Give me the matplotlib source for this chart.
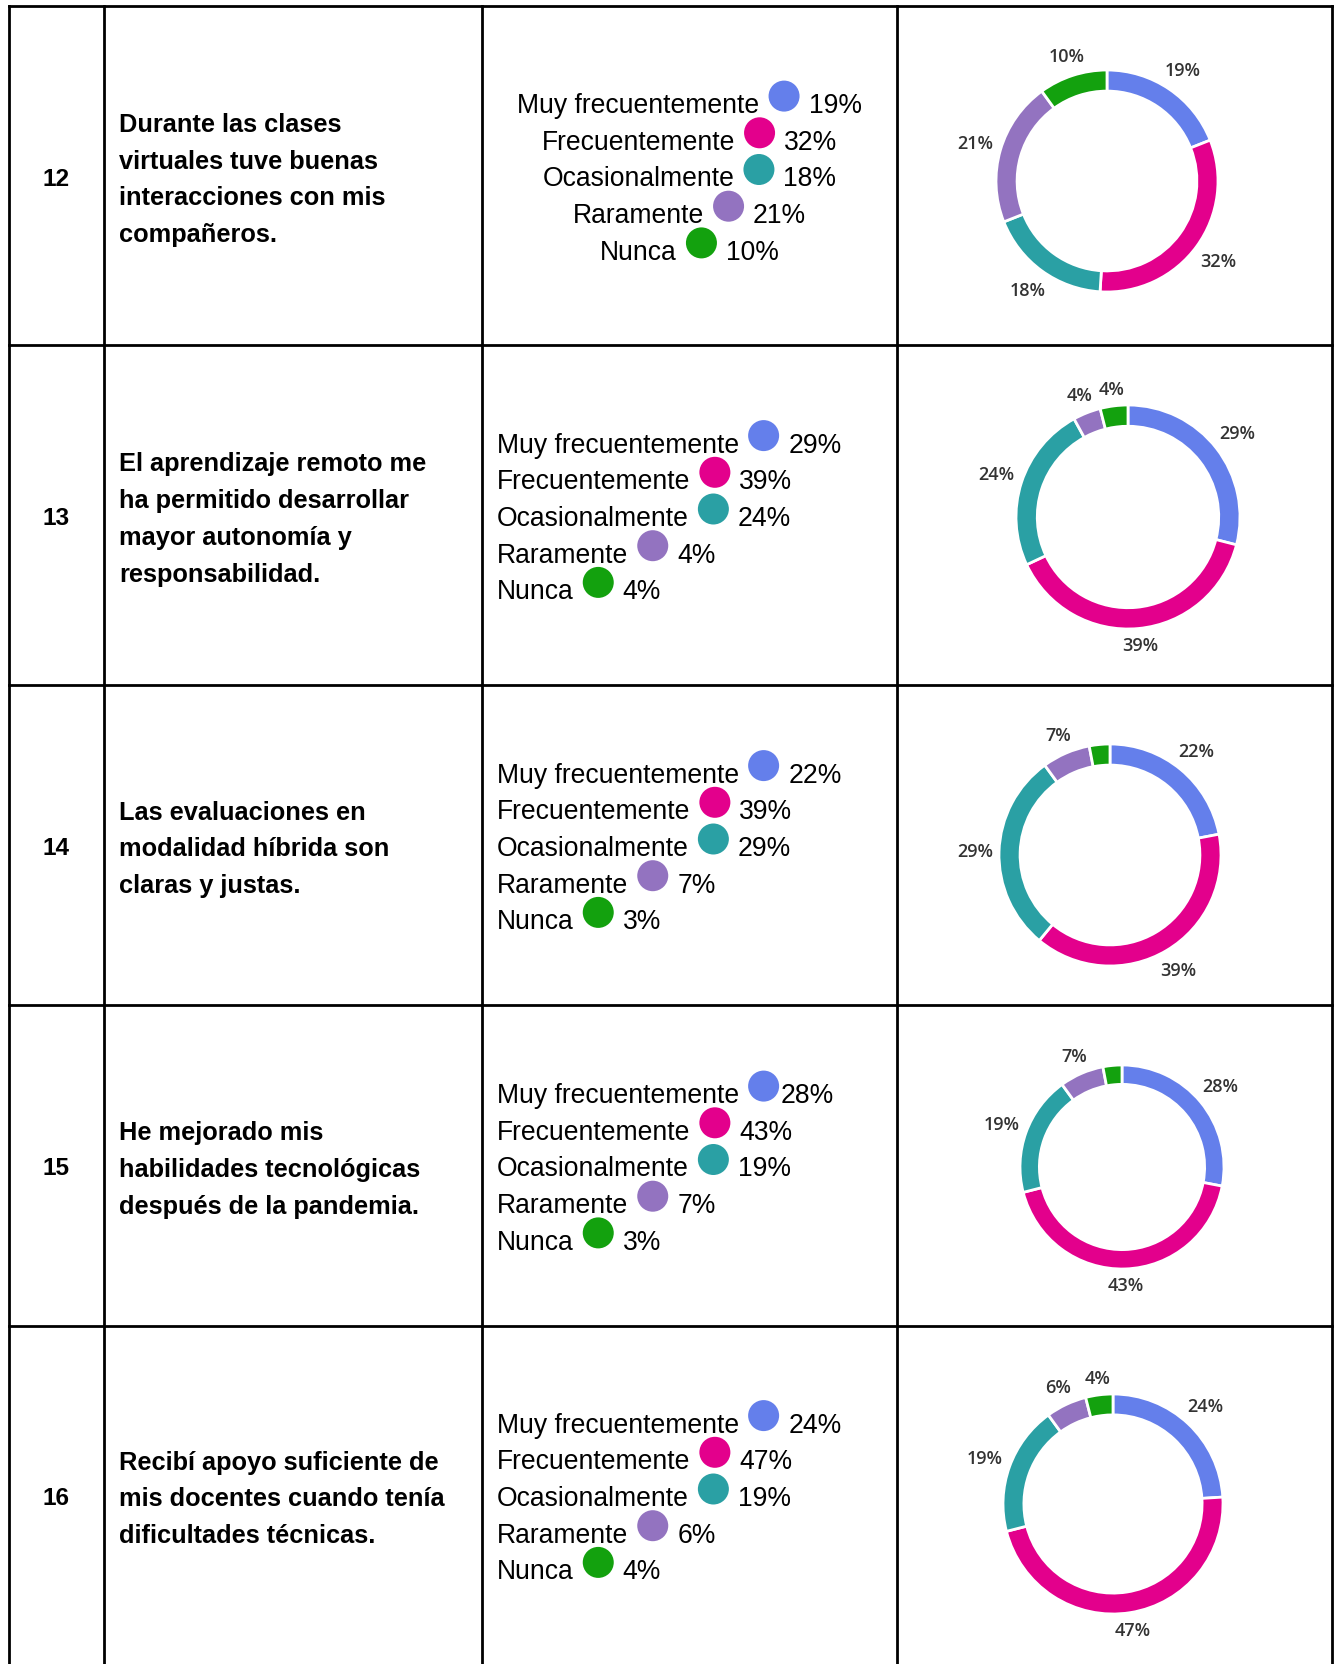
import matplotlib
matplotlib.use("Agg")
import matplotlib.pyplot as plt
from matplotlib.patches import Circle
from matplotlib import font_manager
import numpy as np

W, H = 1335, 1665

# datos de la tabla
numeros = ["12", "13", "14", "15", "16"]
preguntas = [
    ["Durante las clases", "virtuales tuve buenas", "interacciones con mis", "compañeros."],
    ["El aprendizaje remoto me", "ha permitido desarrollar", "mayor autonomía y", "responsabilidad."],
    ["Las evaluaciones en", "modalidad híbrida son", "claras y justas."],
    ["He mejorado mis", "habilidades tecnológicas", "después de la pandemia."],
    ["Recibí apoyo suficiente de", "mis docentes cuando tenía", "dificultades técnicas."],
]
opciones = ["Muy frecuentemente", "Frecuentemente", "Ocasionalmente", "Raramente", "Nunca"]
colores = ["#647FEB", "#E3008C", "#2AA0A4", "#9373C0", "#13A10E"]

p12 = [19, 32, 18, 21, 10]
p13 = [29, 39, 24, 4, 4]
p14 = [22, 39, 29, 7, 3]
p15 = [28, 43, 19, 7, 3]
p16 = [24, 47, 19, 6, 4]
porcentajes = [p12, p13, p14, p15, p16]

# layout (pixeles)
col_x = [9, 104, 482, 897, 1332]
row_y = [7, 346, 686, 1006, 1327, 1665]
donut_c = [(1107, 182), (1128, 518), (1110, 856), (1122, 1168), (1113, 1505)]
donut_r = [111, 112, 111, 102, 110]


def buscar_fuente(nombre, peso):
    # evita que salga la variante Narrow
    for f in font_manager.fontManager.ttflist:
        if f.name == nombre and f.weight == peso and f.style == "normal" \
                and "Narrow" not in f.fname:
            return f.fname
    return None


f_reg = buscar_fuente("Liberation Sans", 400)
f_bold = buscar_fuente("Liberation Sans", 700)


def fp(path, size, weight="normal"):
    if path:
        return font_manager.FontProperties(fname=path, size=size)
    return font_manager.FontProperties(family="Liberation Sans", weight=weight, size=size)


fig = plt.figure(figsize=(W / 100, H / 100), dpi=100)
ax = fig.add_axes([0, 0, 1, 1])
ax.set_xlim(0, W)
ax.set_ylim(H, 0)
ax.axis("off")

# bordes de la tabla
for x in col_x:
    ax.plot([x, x], [row_y[0], H], color="black", lw=2, solid_capstyle="projecting")
for y in row_y[:-1]:
    ax.plot([col_x[0], col_x[-1]], [y, y], color="black", lw=2, solid_capstyle="projecting")

renderer = fig.canvas.get_renderer()


def ancho(t):
    return t.get_window_extent(renderer).width


for i in range(5):
    cy = (row_y[i] + row_y[i + 1]) / 2

    # numero
    ax.text((col_x[0] + col_x[1]) / 2, cy + 9, numeros[i], ha="center", va="baseline",
            fontproperties=fp(f_bold, 17.6, "bold"))

    # pregunta
    lineas = preguntas[i]
    sp = 36.7
    b0 = cy - (len(lineas) - 1) * sp / 2 + 9 + 1.5
    for k, ln in enumerate(lineas):
        ax.text(119, b0 + k * sp, ln, ha="left", va="baseline",
                fontproperties=fp(f_bold, 18.3, "bold"))

    # leyenda con circulos
    b0 = cy - 2 * sp + 9 + 1
    for k, (op, val) in enumerate(zip(opciones, porcentajes[i])):
        yb = b0 + k * sp
        t1 = ax.text(0, yb, op, ha="left", va="baseline", fontproperties=fp(f_reg, 19.1))
        t2 = ax.text(0, yb, f"{val}%", ha="left", va="baseline", fontproperties=fp(f_reg, 19.1))
        w1, w2 = ancho(t1), ancho(t2)
        g2 = 2 if (i == 3 and k == 0) else 9
        total = w1 + 9 + 31 + g2 + w2
        x0 = (col_x[2] + col_x[3]) / 2 - total / 2 if i == 0 else 497
        t1.set_x(x0)
        ax.add_patch(Circle((x0 + w1 + 9 + 15.5, yb - 16), 15.5, color=colores[k], lw=0))
        t2.set_x(x0 + w1 + 9 + 31 + g2)

    # dona
    cx, cyd = donut_c[i]
    R = donut_r[i]
    L = 1.5 * R
    axd = fig.add_axes([(cx - L) / W, 1 - (cyd + L) / H, 2 * L / W, 2 * L / H])
    wedges, _ = axd.pie(porcentajes[i], colors=colores, startangle=90, counterclock=False,
                        radius=1, wedgeprops=dict(width=0.19, edgecolor="white", linewidth=2))
    axd.set_xlim(-1.5, 1.5)
    axd.set_ylim(-1.5, 1.5)
    for w, v in zip(wedges, porcentajes[i]):
        if v < 4:
            continue
        ang = np.deg2rad((w.theta1 + w.theta2) / 2)
        t = axd.text(0, 0, f"{v}%", ha="center", va="center", fontsize=13,
                     family="Open Sans", fontweight="semibold", color="#333333")
        bb = t.get_window_extent(renderer)
        d = R + 6 + abs(np.cos(ang)) * bb.width / 2 + abs(np.sin(ang)) * bb.height / 2
        t.set_position((np.cos(ang) * d / R, np.sin(ang) * d / R))

fig.savefig("out.png", dpi=100)
